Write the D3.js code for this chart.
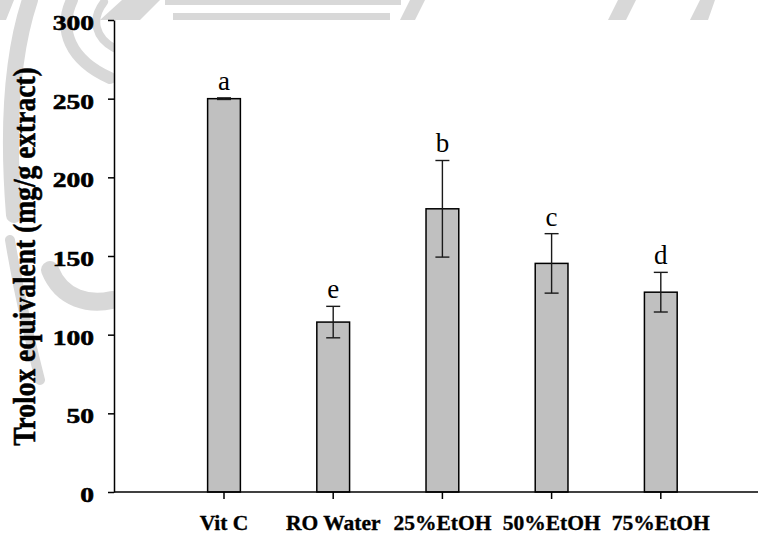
<!DOCTYPE html>
<html>
<head>
<meta charset="utf-8">
<script src="https://cdn.jsdelivr.net/npm/d3@7"></script>
<style>
  html, body { margin: 0; padding: 0; background: #fff; }
  svg { display: block; }
</style>
</head>
<body>
<svg id="chart" width="758" height="536"></svg>
<script>
// Trolox-equivalent antioxidant capacity of the extracts
const categories = ["Vit C", "RO Water", "25%EtOH", "50%EtOH", "75%EtOH"];
const means      = [250, 108, 180, 145.3, 127];
const errors     = [0.5, 10, 30.7, 18.9, 12.6];
const letters    = ["a", "e", "b", "c", "d"];
const yTicks     = [0, 50, 100, 150, 200, 250, 300];
const yTitle     = "Trolox equivalent (mg/g extract)";

(function () {
const svg = d3.select("#chart");
const W = 758, H = 536;
const plotLeft = 114, plotTop = 20, plotBottom = 492;
const serif = "'Liberation Serif', 'Times New Roman', serif";
const grey = "#d8d8d8";

// faint seal in the page background (only visible around the plot)
const wm = svg.append("g").attr("fill", grey).attr("stroke", "none");
wm.append("rect").attr("x", 165).attr("y", 0).attr("width", 236).attr("height", 5);
wm.append("rect").attr("x", 173).attr("y", 13).attr("width", 217).attr("height", 8);
wm.append("path").attr("d", "M0,0 L14,0 L6,20 L0,20 Z");
wm.append("path").attr("d", "M100,20 L122,0 L160,0 L140,20 Z");
wm.append("path").attr("d", "M400,20 L410,0 L425,0 L415,20 Z");
wm.append("path").attr("d", "M608,20 L618,0 L636,0 L626,20 Z");
wm.append("path").attr("d", "M690,20 L700,0 L715,0 L708,20 Z");
const wmArcs = svg.append("g").attr("fill", "none").attr("stroke", grey).attr("stroke-linecap", "round");
wmArcs.append("path").attr("d", "M30,0 C10,60 8,140 14,215").attr("stroke-width", 16);
wmArcs.append("path").attr("d", "M72,0 C58,30 70,60 110,78").attr("stroke-width", 12);
wmArcs.append("path").attr("d", "M104,2 C90,20 96,38 114,48").attr("stroke-width", 8);
wmArcs.append("path").attr("d", "M50,270 C62,300 90,305 112,300").attr("stroke-width", 18);
wmArcs.append("path").attr("d", "M10,240 C20,300 30,340 40,380").attr("stroke-width", 10);

// white plotting area on top of the background
svg.append("rect").attr("x", plotLeft).attr("y", plotTop).attr("width", W - plotLeft).attr("height", H - plotTop).attr("fill", "#fff");
svg.append("rect").attr("x", 0).attr("y", plotBottom).attr("width", W).attr("height", H - plotBottom).attr("fill", "#fff");

const x = d3.scaleBand()
  .domain(categories)
  .range([169.4, 715.4])
  .paddingInner(0.7)
  .paddingOuter(0.35);

const y = d3.scaleLinear().domain([0, 300]).range([plotBottom, plotTop]);

const data = categories.map((c, i) => ({ c, m: means[i], e: errors[i], l: letters[i] }));

// bars
svg.append("g").selectAll("rect").data(data).join("rect")
  .attr("x", d => x(d.c))
  .attr("y", d => y(d.m))
  .attr("width", x.bandwidth())
  .attr("height", d => y(0) - y(d.m))
  .attr("fill", "#c0c0c0")
  .attr("stroke", "#000")
  .attr("stroke-width", 1.5);

// error bars
const cx = d => x(d.c) + x.bandwidth() / 2;
const eb = svg.append("g").attr("stroke", "#1a1a1a").attr("stroke-width", 1.4);
eb.selectAll("line.v").data(data).join("line").attr("class", "v")
  .attr("x1", cx).attr("x2", cx)
  .attr("y1", d => y(d.m + d.e)).attr("y2", d => y(d.m - d.e));
eb.selectAll("line.t").data(data).join("line").attr("class", "t")
  .attr("x1", d => cx(d) - 7).attr("x2", d => cx(d) + 7)
  .attr("y1", d => y(d.m + d.e)).attr("y2", d => y(d.m + d.e));
eb.selectAll("line.b").data(data).join("line").attr("class", "b")
  .attr("x1", d => cx(d) - 7).attr("x2", d => cx(d) + 7)
  .attr("y1", d => y(d.m - d.e)).attr("y2", d => y(d.m - d.e));

// significance letters
svg.append("g").selectAll("text").data(data).join("text")
  .attr("x", cx)
  .attr("y", d => y(d.m + d.e) - 8)
  .attr("text-anchor", "middle")
  .attr("font-family", serif)
  .attr("font-size", 27)
  .text(d => d.l);

// y axis
const yAxis = svg.append("g")
  .attr("transform", `translate(${plotLeft},0)`)
  .attr("font-family", serif)
  .call(d3.axisLeft(y).tickValues(yTicks).tickSize(6).tickSizeOuter(0).tickPadding(0));
yAxis.selectAll("path, line").attr("stroke", "#000").attr("stroke-width", 1.5);
yAxis.selectAll("text")
  .attr("x", 0)
  .attr("dy", "0.43em")
  .attr("text-anchor", "end")
  .attr("transform", "translate(-20,0) scale(1.25,1)")
  .attr("font-family", serif)
  .attr("font-weight", "bold")
  .attr("font-size", 22)
  .attr("stroke", "#000")
  .attr("stroke-width", 0.6)
  .attr("fill", "#000");

// x axis: baseline across the full width, ticks under each bar
svg.append("line")
  .attr("x1", plotLeft).attr("x2", W)
  .attr("y1", plotBottom).attr("y2", plotBottom)
  .attr("stroke", "#000").attr("stroke-width", 1.5);
const xAxis = svg.append("g")
  .attr("transform", `translate(0,${plotBottom})`)
  .attr("font-family", serif)
  .call(d3.axisBottom(x).tickSize(7).tickSizeOuter(0).tickPadding(16));
xAxis.select(".domain").remove();
xAxis.selectAll("line").attr("stroke", "#000").attr("stroke-width", 1.5);
xAxis.selectAll("text")
  .attr("font-family", serif)
  .attr("font-weight", "bold")
  .attr("font-size", 21.5)
  .attr("stroke", "#000")
  .attr("stroke-width", 0.35)
  .attr("fill", "#000");

// y axis title
svg.append("text")
  .attr("transform", "translate(35,256.5) scale(1.15,1) rotate(-90)")
  .attr("text-anchor", "middle")
  .attr("font-family", serif)
  .attr("font-weight", "bold")
  .attr("font-size", 27.5)
  .attr("stroke", "#000")
  .attr("stroke-width", 0.5)
  .text(yTitle);
})();
</script>
</body>
</html>
